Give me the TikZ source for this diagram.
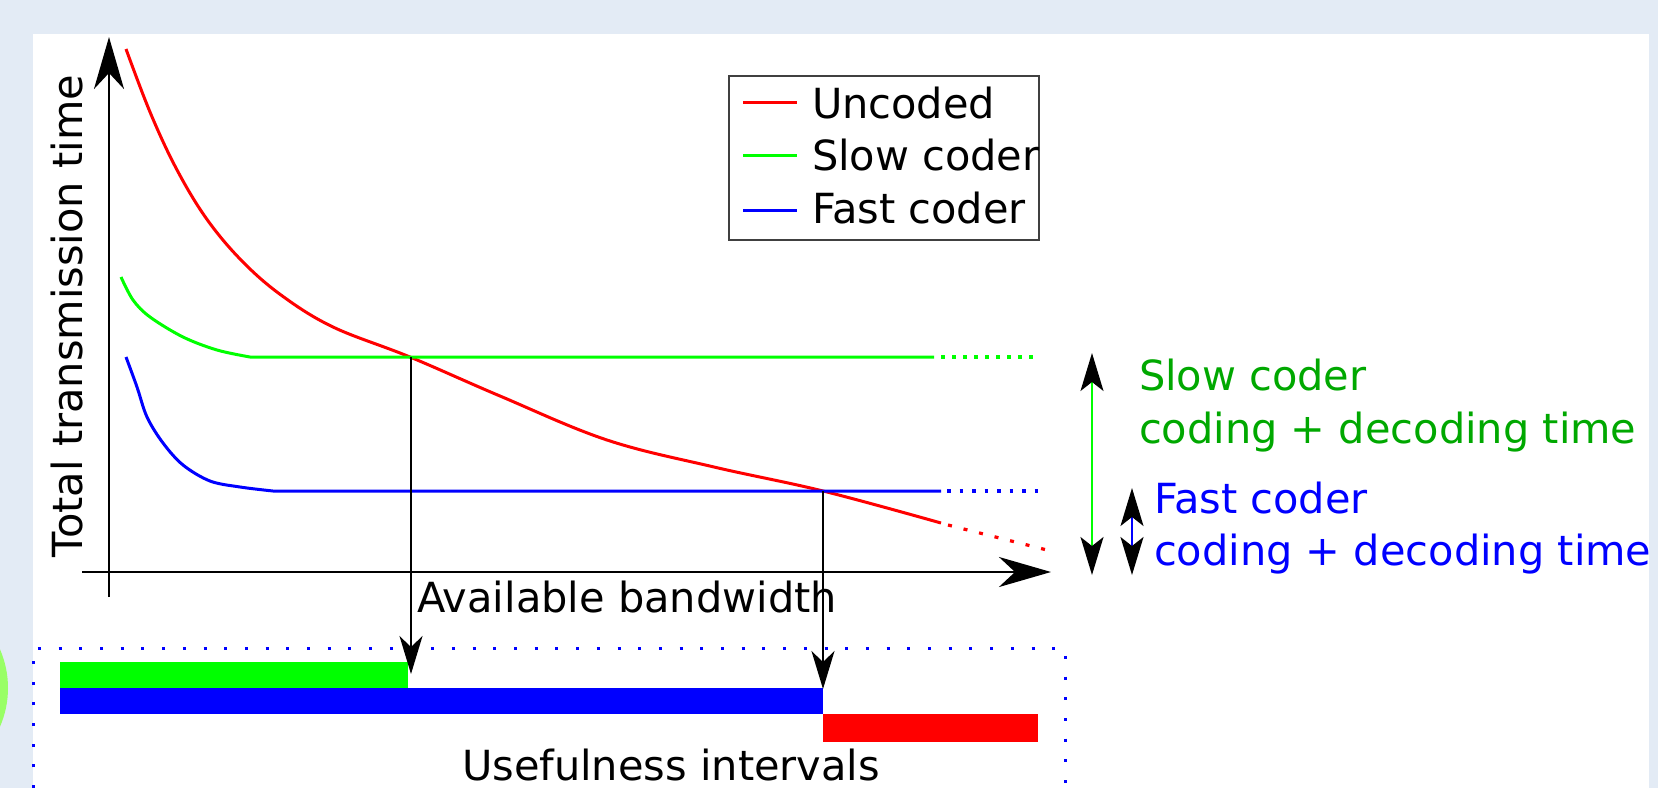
\documentclass[tikz,border=0pt]{standalone}
\usepackage{fontspec}
\setmainfont{DejaVu Sans}
\usetikzlibrary{arrows.meta}
\definecolor{pagebg}{HTML}{E3EBF5}
\definecolor{blobgreen}{HTML}{99FF66}
\definecolor{labelgreen}{HTML}{00A800}
\definecolor{boxgray}{HTML}{404040}
\begin{document}
\begin{tikzpicture}[x=1pt,y=-1pt,
  txt/.style={font=\fontsize{41.5}{50}\selectfont, inner sep=0pt, outer sep=0pt},
  curve/.style={line width=3pt, line join=round},
  ext/.style={line width=3.2pt},
  axis/.style={line width=2.8pt, -{Stealth[length=52pt, width=30pt, inset=16pt]}},
  drop/.style={line width=2pt, -{Stealth[length=38pt, width=23pt, inset=11pt]}},
  span/.style={line width=1.6pt, {Stealth[black, length=38pt, width=23pt, inset=9pt]}-{Stealth[black, length=38pt, width=23pt, inset=9pt]}},
  legline/.style={line width=3pt}]
\useasboundingbox (0,0) rectangle (1658,788);
% page background and panel
\fill[pagebg] (0,0) rectangle (1658,788);
\begin{scope}
  \clip (0,0) rectangle (1658,788);
  \fill[blobgreen] (-89,688) circle (97);
\end{scope}
\fill[white] (33,34) rectangle (1649,788);

% usefulness frame
\draw[blue, line width=3pt, dash pattern=on 3pt off 17.7pt] (33,788) -- (33,648) -- (1065,648) -- (1065,788);

% usefulness bars
\fill[green] (60,662) rectangle (408,688);
\fill[blue] (60,688) rectangle (823,714);
\fill[red] (823,714) rectangle (1038,742);

% axes
\coordinate (yb) at (109,597);
\coordinate (yt) at (109,37);
\coordinate (xl) at (82,572);
\coordinate (xr) at (1051,572);
\draw[axis] (yb) -- (yt);
\draw[axis] (xl) -- (xr);

% curves
\draw[curve, red] plot[smooth, tension=0.6] coordinates {(126,49) (150,112) (176,168) (206,218) (241,260) (281,295) (333,327) (410,357) (500,396) (607,440) (714,467) (823,491) (941,523)};
\draw[curve, green] plot[smooth, tension=0.55] coordinates {(121,277) (133,300) (150,317) (183,337) (217,350) (250,357)} -- (934,357);
\draw[curve, blue] plot[smooth, tension=0.55] coordinates {(126,357) (137,387) (147,417) (163,443) (183,465) (210,481) (240,487) (273,491)} -- (941,491);
\draw[ext, green, dash pattern=on 3.5pt off 7.5pt] (941,357) -- (1039,357);
\draw[ext, blue, dash pattern=on 3.5pt off 9pt] (947,491) -- (1039,491);
\draw[ext, red, dash pattern=on 4pt off 12pt] (948,525) -- (1047,550);

% crossings and the intervals they bound
\coordinate (c1) at (411,357);
\coordinate (c2) at (823,491);
\coordinate (d1) at (411,674);
\coordinate (d2) at (823,689);
\draw[drop] (c1) -- (d1);
\draw[drop] (c2) -- (d2);

% axis labels
\node[txt, rotate=90, anchor=base] (ylab) at (82,316) {Total transmission time};
\node[txt, anchor=base west] (xlab) at (417,612) {Available bandwidth};
\node[txt, anchor=base west, text depth=0pt] (ulab) at (462,780) {Usefulness intervals};

% legend
\node[draw=boxgray, line width=1.8pt, minimum width=310pt, minimum height=164pt, inner sep=0pt] (legend) at (884,158) {};
\draw[legline, red] (743,102) -- (797,102);
\draw[legline, green] (743,155) -- (797,155);
\draw[legline, blue] (743,210) -- (797,210);
\node[txt, anchor=base west] (lu) at (812,118) {Uncoded};
\node[txt, anchor=base west] (ls) at (812,170) {Slow coder};
\node[txt, anchor=base west] (lf) at (812,223) {Fast coder};

% coding + decoding time spans
\coordinate (gs) at (1092,353);
\coordinate (ge) at (1092,575);
\coordinate (bs) at (1132,488);
\coordinate (be) at (1132,575);
\draw[span, green] (gs) -- (ge);
\draw[span, blue] (bs) -- (be);
\node[txt, anchor=base west, text=labelgreen] (s1) at (1139,390) {Slow coder};
\node[txt, anchor=base west, text=labelgreen] (s2) at (1139,443) {coding + decoding time};
\node[txt, anchor=base west, text=blue] (f1) at (1154,513) {Fast coder};
\node[txt, anchor=base west, text=blue] (f2) at (1154,565) {coding + decoding time};
\end{tikzpicture}
\end{document}
